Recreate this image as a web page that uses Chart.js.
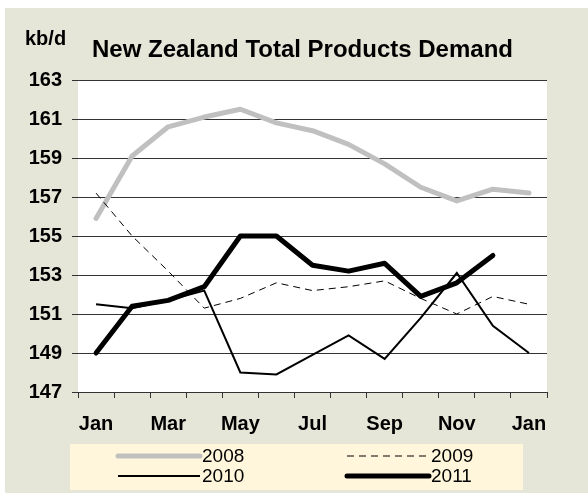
<!DOCTYPE html>
<html>
<head>
<meta charset="utf-8">
<script src="https://cdn.jsdelivr.net/npm/chart.js@4"></script>
<style>
  html, body { margin: 0; padding: 0; background: #fff; }
  canvas { display: block; }
</style>
</head>
<body>
<canvas id="myChart" width="588" height="493"></canvas>
<script>
const months = ['Jan', 'Feb', 'Mar', 'Apr', 'May', 'Jun', 'Jul', 'Aug', 'Sep', 'Oct', 'Nov', 'Dec', 'Jan'];
const yTicks = [147, 149, 151, 153, 155, 157, 159, 161, 163];

const demand2008 = [155.9, 159.1, 160.6, 161.1, 161.5, 160.8, 160.4, 159.7, 158.7, 157.5, 156.8, 157.4, 157.2];
const demand2009 = [157.2, 155.0, 153.2, 151.3, 151.8, 152.6, 152.2, 152.4, 152.7, 151.8, 151.0, 151.9, 151.5];
const demand2010 = [151.5, 151.3, 151.7, 152.2, 148.0, 147.9, 148.9, 149.9, 148.7, 150.8, 153.1, 150.4, 149.0];
const demand2011 = [149.0, 151.4, 151.7, 152.4, 155.0, 155.0, 153.5, 153.2, 153.6, 151.9, 152.6, 154.0, null];

const fontFamily = "Arial, 'Liberation Sans', sans-serif";
const bgColor = '#E6E6D8';
const legendBg = '#FFF6DC';

// background, white plot area, title, unit label and the legend box
const decorPlugin = {
  id: 'decor',
  beforeDraw(chart) {
    const c = chart.ctx;
    const area = chart.chartArea;
    c.save();
    c.fillStyle = '#fff';
    c.fillRect(0, 0, chart.width, chart.height);
    c.fillStyle = bgColor;
    c.fillRect(5, 8, chart.width - 5, chart.height - 8);
    c.fillStyle = '#fff';
    c.fillRect(area.left, area.top, area.right - area.left, area.bottom - area.top);
    c.restore();
  },
  afterDraw(chart) {
    const c = chart.ctx;
    c.save();
    c.fillStyle = '#000';
    c.textBaseline = 'alphabetic';
    c.textAlign = 'left';
    c.font = 'bold 20px ' + fontFamily;
    c.fillText('kb/d', 25, 45);
    c.font = 'bold 24px ' + fontFamily;
    c.fillText('New Zealand Total Products Demand', 92, 57);

    // legend
    c.fillStyle = legendBg;
    c.fillRect(70, 444, 453, 46);
    const spots = [
      { x: 118, y: 456 },
      { x: 347, y: 456 },
      { x: 118, y: 476 },
      { x: 347, y: 476 }
    ];
    chart.data.datasets.forEach((ds, i) => {
      const s = spots[i];
      c.beginPath();
      c.strokeStyle = ds.borderColor;
      c.lineWidth = ds.borderWidth;
      c.lineCap = ds.borderWidth > 2 ? 'round' : 'butt';
      c.setLineDash(ds.borderDash || []);
      c.moveTo(s.x, s.y);
      c.lineTo(s.x + 82, s.y);
      c.stroke();
      c.setLineDash([]);
      c.fillStyle = '#000';
      c.font = '19px ' + fontFamily;
      c.textBaseline = 'middle';
      c.fillText(ds.label, s.x + 84, s.y + 1);
    });
    c.restore();
  }
};

const ctx = document.getElementById('myChart').getContext('2d');
const myChart = new Chart(ctx, {
  type: 'line',
  data: {
    labels: months,
    datasets: [
      {
        label: '2008',
        data: demand2008,
        borderColor: '#C0C0C0',
        borderWidth: 5,
        borderCapStyle: 'round',
        borderJoinStyle: 'round',
        order: 3
      },
      {
        label: '2009',
        data: demand2009,
        borderColor: '#000',
        borderWidth: 1,
        borderDash: [7, 5],
        order: 2
      },
      {
        label: '2010',
        data: demand2010,
        borderColor: '#000',
        borderWidth: 2,
        order: 1
      },
      {
        label: '2011',
        data: demand2011,
        borderColor: '#000',
        borderWidth: 5,
        borderCapStyle: 'round',
        borderJoinStyle: 'round',
        order: 0
      }
    ]
  },
  options: {
    responsive: false,
    animation: false,
    devicePixelRatio: 1,
    layout: { padding: { left: 0, right: 41, top: 80, bottom: 0 } },
    elements: {
      point: { radius: 0, hoverRadius: 0 },
      line: { tension: 0, fill: false }
    },
    plugins: {
      legend: { display: false },
      title: { display: false },
      tooltip: { enabled: false }
    },
    scales: {
      x: {
        offset: true,
        grid: {
          offset: true,
          drawOnChartArea: false,
          drawTicks: true,
          tickLength: 6,
          color: '#333'
        },
        border: { display: true, color: '#333' },
        ticks: {
          autoSkip: false,
          maxRotation: 0,
          padding: 14,
          color: '#000',
          font: { family: fontFamily, size: 20, weight: 'bold' },
          callback: (value, i) => (i % 2 === 0 ? months[i] : '')
        },
        afterFit: (scale) => { scale.height = 101; }
      },
      y: {
        min: yTicks[0],
        max: yTicks[yTicks.length - 1],
        afterBuildTicks: (scale) => { scale.ticks = yTicks.map(v => ({ value: v })); },
        grid: {
          drawTicks: true,
          tickLength: 6,
          color: '#333',
          lineWidth: 1
        },
        border: { display: false },
        ticks: {
          padding: 10,
          color: '#000',
          font: { family: fontFamily, size: 20, weight: 'bold' }
        },
        afterFit: (scale) => { scale.width = 78; }
      }
    }
  },
  plugins: [decorPlugin]
});
</script>
</body>
</html>
